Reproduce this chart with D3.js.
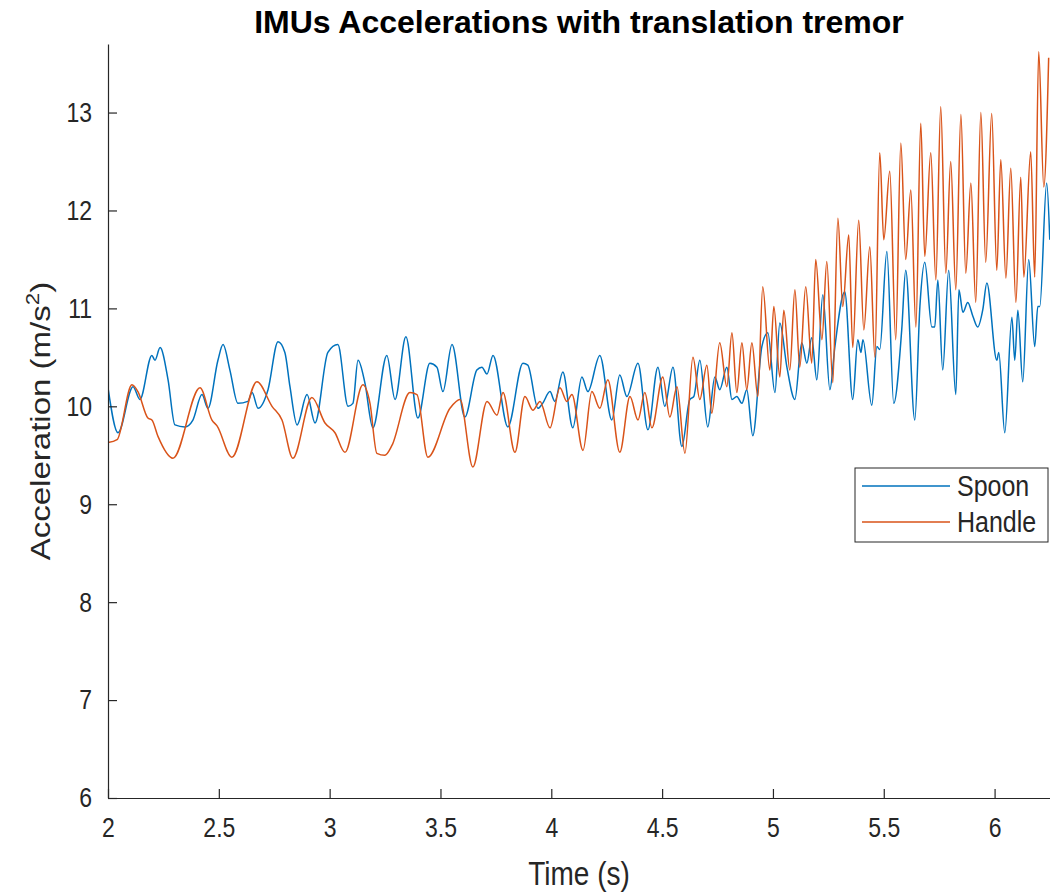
<!DOCTYPE html>
<html>
<head>
<meta charset="utf-8">
<script src="https://cdn.jsdelivr.net/npm/d3@7"></script>
<style>
  body { margin: 0; background: #fff; }
  text { font-family: "Liberation Sans", Arial, sans-serif; fill: #262626; }
  /* the reference glyphs are taller than they are wide */
  .tall { transform-box: fill-box; transform-origin: center; transform: scaleY(1.18); }
  .long { transform-box: fill-box; transform-origin: center; transform: scaleX(1.18); }
</style>
</head>
<body>
<svg id="chart" width="1050" height="894"></svg>
<script>
// values
const spoonTime = [2.000, 2.045, 2.113, 2.144, 2.198, 2.212, 2.235, 2.271, 2.302, 2.347, 2.383, 2.424, 2.451, 2.496, 2.519, 2.550, 2.586, 2.631, 2.650, 2.677, 2.722, 2.767, 2.798, 2.821, 2.853, 2.898, 2.934, 2.992, 3.037, 3.083, 3.105, 3.128, 3.159, 3.195, 3.258, 3.295, 3.344, 3.398, 3.452, 3.484, 3.511, 3.552, 3.610, 3.664, 3.687, 3.710, 3.737, 3.804, 3.872, 3.894, 3.940, 3.961, 3.994, 4.016, 4.052, 4.097, 4.138, 4.165, 4.219, 4.273, 4.309, 4.341, 4.391, 4.436, 4.481, 4.512, 4.549, 4.589, 4.625, 4.643, 4.670, 4.706, 4.738, 4.760, 4.792, 4.815, 4.837, 4.860, 4.882, 4.909, 4.950, 4.977, 5.009, 5.031, 5.063, 5.099, 5.130, 5.153, 5.175, 5.198, 5.225, 5.257, 5.279, 5.324, 5.360, 5.383, 5.397, 5.406, 5.446, 5.469, 5.482, 5.514, 5.545, 5.581, 5.599, 5.640, 5.663, 5.685, 5.717, 5.730, 5.744, 5.766, 5.793, 5.825, 5.839, 5.857, 5.879, 5.902, 5.924, 5.947, 5.965, 6.010, 6.019, 6.046, 6.078, 6.091, 6.105, 6.127, 6.154, 6.181, 6.195, 6.204, 6.235, 6.249];
const spoonAccel = [10.19, 9.73, 10.20, 10.07, 10.52, 10.47, 10.60, 10.27, 9.81, 9.79, 9.86, 10.12, 9.98, 10.47, 10.63, 10.37, 10.03, 10.05, 10.14, 9.98, 10.17, 10.66, 10.55, 10.20, 9.81, 10.12, 9.83, 10.55, 10.63, 10.00, 10.03, 10.47, 10.24, 9.78, 10.52, 10.07, 10.71, 9.88, 10.44, 10.40, 10.15, 10.63, 9.89, 10.37, 10.40, 10.33, 10.52, 9.79, 10.44, 10.42, 9.98, 10.03, 10.15, 10.05, 10.35, 9.78, 10.30, 10.15, 10.52, 9.86, 10.32, 10.10, 10.44, 9.76, 10.40, 10.00, 10.40, 9.59, 10.07, 10.10, 10.47, 9.79, 10.30, 10.17, 10.40, 10.07, 10.10, 10.03, 10.17, 9.70, 10.61, 10.75, 10.14, 10.85, 10.40, 10.07, 10.65, 10.44, 10.70, 10.27, 11.14, 10.17, 10.60, 11.17, 10.07, 10.68, 10.55, 10.68, 10.01, 10.61, 10.58, 11.58, 10.03, 10.78, 11.39, 9.86, 11.02, 11.47, 10.81, 10.81, 11.29, 10.37, 11.39, 10.12, 11.19, 10.96, 11.06, 10.92, 10.81, 10.99, 11.26, 10.47, 10.55, 9.73, 10.91, 10.47, 10.98, 10.25, 11.50, 10.61, 11.02, 11.02, 12.28, 11.70];

const handleTime = [2.000, 2.041, 2.108, 2.135, 2.180, 2.198, 2.226, 2.293, 2.415, 2.469, 2.492, 2.559, 2.672, 2.740, 2.785, 2.834, 2.920, 2.979, 3.024, 3.069, 3.150, 3.182, 3.213, 3.249, 3.281, 3.362, 3.394, 3.443, 3.543, 3.588, 3.646, 3.710, 3.755, 3.782, 3.836, 3.881, 3.917, 3.949, 3.994, 4.039, 4.070, 4.093, 4.143, 4.183, 4.219, 4.255, 4.309, 4.355, 4.391, 4.422, 4.454, 4.503, 4.535, 4.567, 4.603, 4.639, 4.670, 4.702, 4.724, 4.760, 4.792, 4.815, 4.837, 4.860, 4.882, 4.905, 4.932, 4.954, 4.986, 5.004, 5.031, 5.049, 5.076, 5.099, 5.121, 5.148, 5.175, 5.193, 5.221, 5.243, 5.270, 5.293, 5.315, 5.342, 5.360, 5.387, 5.410, 5.437, 5.460, 5.482, 5.500, 5.527, 5.554, 5.577, 5.599, 5.622, 5.645, 5.667, 5.685, 5.712, 5.735, 5.757, 5.780, 5.802, 5.825, 5.848, 5.870, 5.893, 5.915, 5.938, 5.960, 5.987, 6.010, 6.028, 6.051, 6.073, 6.096, 6.118, 6.132, 6.163, 6.181, 6.199, 6.222, 6.244];
const handleAccel = [9.63, 9.66, 10.22, 10.15, 9.88, 9.86, 9.69, 9.47, 10.19, 9.86, 9.80, 9.48, 10.25, 10.00, 9.86, 9.47, 10.09, 9.83, 9.73, 9.53, 10.22, 10.03, 9.52, 9.50, 9.60, 10.14, 10.12, 9.48, 9.98, 10.07, 9.38, 10.05, 9.91, 10.14, 9.53, 10.10, 9.96, 10.05, 9.78, 10.19, 10.05, 10.12, 9.55, 10.15, 9.98, 10.27, 9.53, 10.10, 9.86, 10.14, 9.78, 10.30, 9.89, 10.20, 9.52, 10.50, 10.07, 10.42, 9.93, 10.65, 10.20, 10.75, 10.14, 10.65, 10.17, 10.65, 10.10, 11.22, 10.37, 11.02, 10.30, 10.98, 10.37, 11.19, 10.40, 11.22, 10.44, 11.50, 10.68, 11.48, 10.24, 11.92, 11.02, 11.75, 10.60, 11.90, 10.78, 11.63, 10.50, 12.59, 11.70, 12.40, 10.68, 12.69, 11.50, 12.21, 10.81, 12.89, 11.53, 12.59, 11.29, 13.06, 11.36, 12.50, 11.19, 12.98, 11.36, 12.28, 11.06, 13.00, 11.47, 12.99, 11.39, 12.52, 11.31, 12.43, 11.06, 12.34, 11.32, 12.60, 11.32, 13.62, 12.24, 13.56];

const seriesNames = ["Spoon", "Handle"];
const seriesColors = ["#0072BD", "#D95319"];
const xTicks = [2, 2.5, 3, 3.5, 4, 4.5, 5, 5.5, 6];
const yTicks = [6, 7, 8, 9, 10, 11, 12, 13];

const W = 1050, H = 894;
const margin = { top: 44, right: 0, bottom: 96, left: 108 };

const svg = d3.select("#chart");

const x = d3.scaleLinear().domain([2, 6.25]).range([margin.left, W - margin.right]);
const y = d3.scaleLinear().domain([6, 13.7]).range([H - margin.bottom, margin.top]);

svg.append("defs").append("clipPath").attr("id", "clip")
  .append("rect")
  .attr("x", margin.left).attr("y", margin.top)
  .attr("width", W - margin.left - margin.right)
  .attr("height", H - margin.top - margin.bottom);

const series = [
  { name: seriesNames[0], color: seriesColors[0], values: spoonTime.map((t, i) => ({ t, v: spoonAccel[i] })) },
  { name: seriesNames[1], color: seriesColors[1], values: handleTime.map((t, i) => ({ t, v: handleAccel[i] })) }
];

const line = d3.line()
  .x(d => x(d.t))
  .y(d => y(d.v))
  .curve(d3.curveMonotoneX);

svg.append("g").attr("clip-path", "url(#clip)")
  .selectAll("path")
  .data(series)
  .enter()
  .append("path")
  .attr("fill", "none")
  .attr("stroke", d => d.color)
  .attr("stroke-width", 1.5)
  .attr("stroke-linejoin", "round")
  .attr("d", d => line(d.values));

// axes, matlab style: ticks pointing inward, no box
const xAxis = svg.append("g")
  .attr("transform", `translate(0,${H - margin.bottom})`)
  .call(d3.axisBottom(x).tickValues(xTicks).tickFormat(d3.format("")).tickSizeInner(-9).tickSizeOuter(0).tickPadding(21));

const yAxis = svg.append("g")
  .attr("transform", `translate(${margin.left},0)`)
  .call(d3.axisLeft(y).tickValues(yTicks).tickSizeInner(-9).tickSizeOuter(0).tickPadding(16));

[xAxis, yAxis].forEach(g => {
  g.select(".domain").attr("stroke", "#262626").attr("stroke-width", 1.2);
  g.selectAll(".tick line").attr("stroke", "#262626").attr("stroke-width", 1.2);
  g.selectAll(".tick text")
    .attr("class", "tall")
    .style("font-family", "'Liberation Sans', Arial, sans-serif")
    .style("font-size", "23px")
    .attr("fill", "#262626");
});

// title and labels
svg.append("text")
  .attr("x", (margin.left + W - margin.right) / 2)
  .attr("y", 33)
  .attr("text-anchor", "middle")
  .style("font-size", "32px")
  .style("font-weight", "bold")
  .style("fill", "#000")
  .text("IMUs Accelerations with translation tremor");

svg.append("text")
  .attr("class", "tall")
  .attr("x", (margin.left + W - margin.right) / 2)
  .attr("y", 883)
  .attr("text-anchor", "middle")
  .style("font-size", "28px")
  .text("Time (s)");

const yl = svg.append("g")
  .attr("transform", `translate(50,${(margin.top + H - margin.bottom) / 2}) rotate(-90)`)
  .append("text")
  .attr("class", "long")
  .attr("text-anchor", "middle")
  .style("font-size", "28px");
yl.append("tspan").text("Acceleration (m/s");
yl.append("tspan").attr("dy", -11).style("font-size", "19px").text("2");
yl.append("tspan").attr("dy", 11).text(")");

// legend
const legend = svg.append("g").attr("transform", "translate(855,468)");
legend.append("rect")
  .attr("width", 193).attr("height", 74)
  .attr("fill", "#fff")
  .attr("stroke", "#262626")
  .attr("stroke-width", 1);

const item = legend.selectAll(".item")
  .data(series)
  .enter()
  .append("g")
  .attr("class", "item")
  .attr("transform", (d, i) => `translate(0,${18 + i * 36})`);

item.append("line")
  .attr("x1", 7).attr("x2", 95)
  .attr("stroke", d => d.color)
  .attr("stroke-width", 1.5);

item.append("text")
  .attr("class", "tall")
  .attr("x", 102)
  .attr("dy", "0.35em")
  .style("font-size", "25px")
  .text(d => d.name);
</script>
</body>
</html>
